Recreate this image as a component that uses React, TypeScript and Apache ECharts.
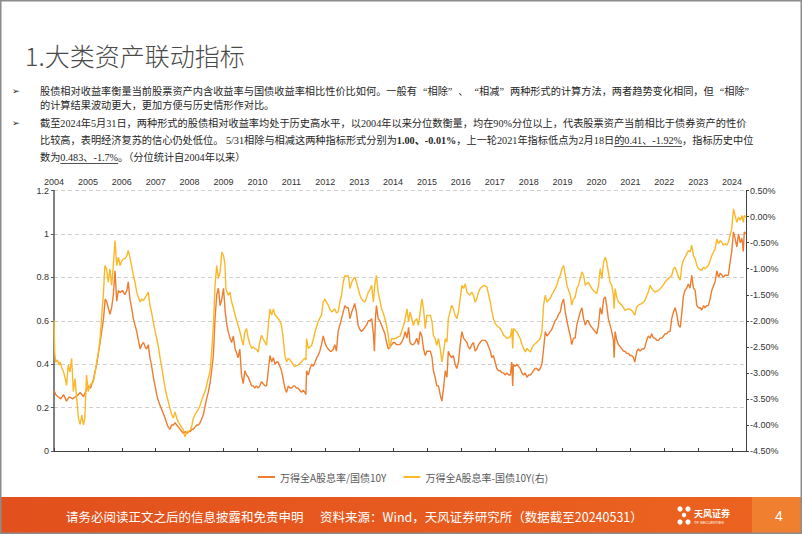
import React, { useEffect, useRef } from "react";
import * as echarts from "echarts";

// ---- data ----
// 万得全A股息率/国债10Y (left axis), [decimal year, value]
const ratioData: [number, number][] = [
  [2004.0, 0.28], [2004.05, 0.26], [2004.12, 0.25], [2004.2, 0.24], [2004.28, 0.26], [2004.37, 0.23], [2004.45, 0.25],
  [2004.55, 0.24], [2004.63, 0.25], [2004.72, 0.26], [2004.77, 0.27], [2004.87, 0.25], [2004.95, 0.28], [2005.01, 0.3],
  [2005.08, 0.29], [2005.16, 0.33], [2005.26, 0.4], [2005.36, 0.5], [2005.46, 0.61], [2005.51, 0.7], [2005.55, 0.69],
  [2005.6, 0.66], [2005.65, 0.63], [2005.7, 0.66], [2005.75, 0.72], [2005.8, 0.83], [2005.85, 0.69], [2005.9, 0.74],
  [2005.95, 0.73], [2006.02, 0.74], [2006.09, 0.72], [2006.15, 0.74], [2006.19, 0.78], [2006.24, 0.7], [2006.29, 0.66],
  [2006.34, 0.61], [2006.39, 0.58], [2006.44, 0.55], [2006.49, 0.51], [2006.54, 0.47], [2006.59, 0.49], [2006.64, 0.5],
  [2006.69, 0.48], [2006.73, 0.47], [2006.78, 0.49], [2006.83, 0.43], [2006.88, 0.39], [2006.93, 0.34], [2006.98, 0.3],
  [2007.03, 0.26], [2007.08, 0.23], [2007.13, 0.21], [2007.18, 0.19], [2007.23, 0.17], [2007.28, 0.15], [2007.32, 0.13],
  [2007.37, 0.11], [2007.42, 0.1], [2007.47, 0.12], [2007.52, 0.12], [2007.57, 0.13], [2007.62, 0.12], [2007.67, 0.11],
  [2007.72, 0.1], [2007.77, 0.09], [2007.82, 0.08], [2007.87, 0.09], [2007.92, 0.08], [2007.97, 0.09], [2008.02, 0.09],
  [2008.07, 0.1], [2008.11, 0.1], [2008.16, 0.11], [2008.21, 0.12], [2008.26, 0.12], [2008.31, 0.13], [2008.36, 0.15],
  [2008.41, 0.17], [2008.46, 0.21], [2008.5, 0.24], [2008.55, 0.27], [2008.6, 0.31], [2008.65, 0.37], [2008.7, 0.44],
  [2008.75, 0.61], [2008.8, 0.72], [2008.85, 0.75], [2008.9, 0.67], [2008.95, 0.7], [2009.0, 0.75], [2009.05, 0.64],
  [2009.1, 0.58], [2009.14, 0.55], [2009.19, 0.52], [2009.24, 0.5], [2009.29, 0.53], [2009.34, 0.47], [2009.39, 0.45],
  [2009.43, 0.43], [2009.48, 0.47], [2009.53, 0.35], [2009.58, 0.31], [2009.63, 0.37], [2009.68, 0.35], [2009.73, 0.34],
  [2009.78, 0.32], [2009.83, 0.3], [2009.88, 0.3], [2009.92, 0.29], [2009.97, 0.3], [2010.02, 0.29], [2010.07, 0.3],
  [2010.12, 0.32], [2010.17, 0.31], [2010.22, 0.3], [2010.27, 0.3], [2010.32, 0.37], [2010.37, 0.44], [2010.42, 0.41],
  [2010.47, 0.43], [2010.52, 0.4], [2010.57, 0.41], [2010.61, 0.41], [2010.66, 0.39], [2010.71, 0.37], [2010.76, 0.33],
  [2010.81, 0.29], [2010.86, 0.27], [2010.91, 0.3], [2010.96, 0.29], [2011.01, 0.29], [2011.06, 0.3], [2011.1, 0.3],
  [2011.15, 0.29], [2011.2, 0.29], [2011.25, 0.28], [2011.3, 0.27], [2011.35, 0.28], [2011.4, 0.27], [2011.43, 0.26],
  [2011.45, 0.37], [2011.5, 0.35], [2011.55, 0.38], [2011.6, 0.4], [2011.65, 0.39], [2011.7, 0.41], [2011.75, 0.43],
  [2011.79, 0.44], [2011.84, 0.46], [2011.89, 0.49], [2011.94, 0.53], [2011.99, 0.5], [2012.04, 0.48], [2012.09, 0.47],
  [2012.14, 0.46], [2012.19, 0.46], [2012.24, 0.47], [2012.28, 0.49], [2012.33, 0.46], [2012.38, 0.55], [2012.43, 0.58],
  [2012.48, 0.61], [2012.53, 0.64], [2012.58, 0.67], [2012.63, 0.66], [2012.68, 0.66], [2012.73, 0.61], [2012.78, 0.64],
  [2012.83, 0.66], [2012.87, 0.68], [2012.92, 0.64], [2012.97, 0.58], [2013.02, 0.56], [2013.07, 0.55], [2013.12, 0.56],
  [2013.17, 0.57], [2013.22, 0.58], [2013.27, 0.6], [2013.32, 0.6], [2013.37, 0.61], [2013.42, 0.54], [2013.45, 0.46],
  [2013.48, 0.61], [2013.51, 0.67], [2013.56, 0.61], [2013.61, 0.6], [2013.66, 0.58], [2013.71, 0.56], [2013.76, 0.54],
  [2013.81, 0.5], [2013.86, 0.47], [2013.91, 0.48], [2013.96, 0.49], [2014.01, 0.5], [2014.05, 0.5], [2014.1, 0.49],
  [2014.15, 0.49], [2014.2, 0.49], [2014.25, 0.5], [2014.31, 0.52], [2014.36, 0.55], [2014.41, 0.52], [2014.46, 0.57],
  [2014.5, 0.5], [2014.55, 0.49], [2014.6, 0.49], [2014.65, 0.5], [2014.7, 0.52], [2014.75, 0.49], [2014.8, 0.55],
  [2014.85, 0.53], [2014.9, 0.47], [2014.95, 0.44], [2015.0, 0.46], [2015.05, 0.46], [2015.1, 0.46], [2015.15, 0.43],
  [2015.19, 0.37], [2015.24, 0.34], [2015.29, 0.3], [2015.34, 0.3], [2015.39, 0.26], [2015.44, 0.23], [2015.49, 0.29],
  [2015.54, 0.37], [2015.59, 0.34], [2015.63, 0.46], [2015.68, 0.44], [2015.73, 0.43], [2015.78, 0.44], [2015.83, 0.4],
  [2015.88, 0.38], [2015.93, 0.41], [2015.98, 0.49], [2016.03, 0.55], [2016.08, 0.52], [2016.13, 0.51], [2016.18, 0.5],
  [2016.22, 0.48], [2016.27, 0.47], [2016.32, 0.49], [2016.37, 0.5], [2016.42, 0.46], [2016.47, 0.47], [2016.52, 0.49],
  [2016.57, 0.5], [2016.62, 0.51], [2016.67, 0.51], [2016.72, 0.51], [2016.77, 0.5], [2016.82, 0.48], [2016.87, 0.46],
  [2016.91, 0.43], [2016.96, 0.44], [2017.01, 0.41], [2017.06, 0.38], [2017.11, 0.37], [2017.16, 0.37], [2017.21, 0.36],
  [2017.26, 0.36], [2017.31, 0.35], [2017.36, 0.36], [2017.41, 0.35], [2017.46, 0.35], [2017.5, 0.41], [2017.53, 0.3],
  [2017.55, 0.4], [2017.6, 0.39], [2017.65, 0.4], [2017.7, 0.39], [2017.75, 0.38], [2017.8, 0.36], [2017.85, 0.35],
  [2017.9, 0.36], [2017.95, 0.34], [2018.0, 0.35], [2018.05, 0.35], [2018.1, 0.36], [2018.14, 0.37], [2018.19, 0.38],
  [2018.24, 0.38], [2018.29, 0.37], [2018.34, 0.38], [2018.39, 0.4], [2018.44, 0.47], [2018.49, 0.55], [2018.54, 0.53],
  [2018.59, 0.54], [2018.63, 0.55], [2018.68, 0.56], [2018.73, 0.58], [2018.78, 0.6], [2018.83, 0.61], [2018.88, 0.63],
  [2018.93, 0.64], [2018.98, 0.68], [2019.03, 0.7], [2019.08, 0.64], [2019.13, 0.6], [2019.18, 0.56], [2019.23, 0.53],
  [2019.27, 0.49], [2019.32, 0.52], [2019.37, 0.52], [2019.42, 0.58], [2019.47, 0.61], [2019.52, 0.64], [2019.57, 0.66],
  [2019.62, 0.61], [2019.67, 0.58], [2019.72, 0.6], [2019.76, 0.6], [2019.81, 0.58], [2019.86, 0.57], [2019.91, 0.56],
  [2019.96, 0.55], [2020.01, 0.54], [2020.06, 0.58], [2020.11, 0.66], [2020.16, 0.63], [2020.21, 0.7], [2020.26, 0.71],
  [2020.3, 0.67], [2020.35, 0.61], [2020.4, 0.58], [2020.45, 0.55], [2020.5, 0.51], [2020.52, 0.43], [2020.55, 0.55],
  [2020.6, 0.51], [2020.65, 0.49], [2020.7, 0.48], [2020.75, 0.47], [2020.8, 0.46], [2020.84, 0.46], [2020.89, 0.45],
  [2020.94, 0.45], [2020.99, 0.44], [2021.04, 0.44], [2021.09, 0.43], [2021.13, 0.41], [2021.19, 0.46], [2021.24, 0.47],
  [2021.29, 0.46], [2021.34, 0.47], [2021.39, 0.47], [2021.43, 0.48], [2021.48, 0.51], [2021.53, 0.53], [2021.58, 0.52],
  [2021.63, 0.54], [2021.68, 0.52], [2021.73, 0.52], [2021.78, 0.51], [2021.83, 0.51], [2021.88, 0.52], [2021.93, 0.52],
  [2021.98, 0.53], [2022.02, 0.54], [2022.07, 0.54], [2022.12, 0.55], [2022.17, 0.55], [2022.22, 0.61], [2022.27, 0.64],
  [2022.32, 0.66], [2022.37, 0.63], [2022.42, 0.58], [2022.47, 0.57], [2022.52, 0.64], [2022.56, 0.71], [2022.61, 0.74],
  [2022.66, 0.75], [2022.71, 0.77], [2022.76, 0.75], [2022.81, 0.81], [2022.86, 0.75], [2022.91, 0.74], [2022.96, 0.67],
  [2023.01, 0.66], [2023.06, 0.66], [2023.11, 0.65], [2023.16, 0.67], [2023.2, 0.66], [2023.25, 0.67], [2023.3, 0.67],
  [2023.35, 0.7], [2023.4, 0.74], [2023.45, 0.76], [2023.5, 0.78], [2023.55, 0.83], [2023.6, 0.8], [2023.65, 0.82],
  [2023.7, 0.81], [2023.74, 0.8], [2023.79, 0.81], [2023.84, 0.81], [2023.89, 0.81], [2023.94, 0.87], [2023.99, 0.92],
  [2024.04, 1.01], [2024.09, 0.98], [2024.14, 0.94], [2024.19, 1.0], [2024.24, 0.96], [2024.29, 0.98], [2024.33, 0.92],
  [2024.36, 1.01], [2024.41, 1.0],
];

// 万得全A股息率-国债10Y (right axis, %), [decimal year, value]
const spreadData: [number, number][] = [
  [2004.0, -2.0], [2004.02, -2.6], [2004.05, -2.8], [2004.1, -2.75], [2004.15, -2.85], [2004.18, -2.79], [2004.23, -2.9],
  [2004.28, -2.98], [2004.33, -3.1], [2004.37, -3.24], [2004.42, -2.85], [2004.47, -2.98], [2004.52, -2.72], [2004.57, -3.36],
  [2004.62, -3.11], [2004.67, -3.49], [2004.72, -3.87], [2004.77, -3.99], [2004.82, -3.81], [2004.87, -4.0], [2004.91, -3.87],
  [2004.96, -3.04], [2005.01, -3.36], [2005.06, -3.24], [2005.11, -3.2], [2005.16, -3.17], [2005.21, -3.0], [2005.26, -2.79],
  [2005.31, -2.6], [2005.36, -2.34], [2005.41, -1.89], [2005.46, -1.45], [2005.5, -0.94], [2005.55, -1.0], [2005.6, -1.26],
  [2005.65, -1.0], [2005.7, -1.32], [2005.75, -0.94], [2005.8, -0.46], [2005.85, -0.94], [2005.9, -0.78], [2005.95, -0.94],
  [2006.0, -0.85], [2006.05, -0.81], [2006.1, -0.8], [2006.15, -0.75], [2006.19, -0.65], [2006.24, -0.78], [2006.29, -0.95],
  [2006.34, -1.13], [2006.39, -1.26], [2006.44, -1.45], [2006.49, -1.55], [2006.54, -1.64], [2006.59, -1.58], [2006.64, -1.61],
  [2006.69, -1.55], [2006.73, -1.51], [2006.78, -1.45], [2006.83, -1.7], [2006.88, -1.85], [2006.93, -2.02], [2006.98, -2.2],
  [2007.03, -2.34], [2007.08, -2.5], [2007.13, -2.72], [2007.18, -2.9], [2007.23, -3.11], [2007.28, -3.3], [2007.32, -3.43],
  [2007.37, -3.55], [2007.42, -3.68], [2007.47, -3.8], [2007.52, -3.87], [2007.57, -3.75], [2007.62, -3.87], [2007.67, -3.95],
  [2007.72, -4.0], [2007.77, -4.05], [2007.82, -4.1], [2007.86, -4.23], [2007.92, -4.13], [2007.97, -4.12], [2008.02, -4.1],
  [2008.07, -4.0], [2008.11, -3.87], [2008.16, -3.8], [2008.21, -3.75], [2008.26, -3.7], [2008.31, -3.62], [2008.36, -3.52],
  [2008.41, -3.43], [2008.46, -3.35], [2008.5, -3.24], [2008.55, -3.1], [2008.6, -2.98], [2008.65, -2.6], [2008.7, -2.09],
  [2008.75, -1.32], [2008.8, -0.94], [2008.85, -1.19], [2008.9, -1.06], [2008.95, -0.68], [2009.0, -0.75], [2009.04, -0.9],
  [2009.07, -1.38], [2009.14, -1.51], [2009.19, -1.45], [2009.24, -1.64], [2009.29, -1.75], [2009.34, -1.89], [2009.39, -2.0],
  [2009.43, -2.09], [2009.48, -2.2], [2009.53, -2.34], [2009.58, -2.47], [2009.63, -2.21], [2009.68, -2.15], [2009.73, -2.34],
  [2009.78, -2.45], [2009.83, -2.53], [2009.88, -2.5], [2009.92, -2.53], [2009.97, -2.55], [2010.02, -2.6], [2010.07, -2.41],
  [2010.12, -2.28], [2010.17, -2.35], [2010.22, -2.41], [2010.27, -2.47], [2010.32, -2.09], [2010.37, -1.77], [2010.42, -1.89],
  [2010.47, -1.77], [2010.52, -1.89], [2010.57, -1.92], [2010.61, -1.96], [2010.66, -2.0], [2010.71, -2.09], [2010.76, -2.34],
  [2010.81, -2.66], [2010.86, -2.79], [2010.91, -2.72], [2010.96, -2.75], [2011.01, -2.79], [2011.06, -2.85], [2011.1, -2.88],
  [2011.15, -2.86], [2011.2, -2.85], [2011.25, -2.82], [2011.3, -2.79], [2011.35, -2.75], [2011.4, -2.72], [2011.43, -2.75],
  [2011.45, -2.34], [2011.5, -2.53], [2011.55, -2.5], [2011.6, -2.47], [2011.65, -2.35], [2011.7, -2.21], [2011.75, -2.1],
  [2011.79, -2.02], [2011.84, -1.95], [2011.89, -1.89], [2011.94, -1.64], [2011.99, -1.58], [2012.04, -1.65], [2012.09, -1.7],
  [2012.14, -1.78], [2012.19, -1.83], [2012.24, -1.8], [2012.28, -1.77], [2012.33, -1.85], [2012.38, -1.83], [2012.43, -1.65],
  [2012.48, -1.51], [2012.53, -1.26], [2012.58, -1.13], [2012.63, -1.15], [2012.68, -1.13], [2012.73, -1.38], [2012.78, -1.26],
  [2012.83, -1.2], [2012.87, -1.16], [2012.92, -1.25], [2012.97, -1.38], [2013.02, -1.5], [2013.07, -1.58], [2013.12, -1.62],
  [2013.17, -1.64], [2013.22, -1.55], [2013.27, -1.45], [2013.32, -1.4], [2013.37, -1.32], [2013.42, -1.64], [2013.46, -1.32],
  [2013.51, -1.13], [2013.56, -1.45], [2013.61, -1.6], [2013.66, -1.77], [2013.71, -1.85], [2013.76, -1.96], [2013.81, -2.1],
  [2013.86, -2.28], [2013.9, -2.53], [2013.96, -2.34], [2014.01, -2.35], [2014.05, -2.34], [2014.1, -2.33], [2014.15, -2.31],
  [2014.2, -2.3], [2014.25, -2.21], [2014.31, -2.09], [2014.36, -1.96], [2014.41, -1.77], [2014.46, -2.02], [2014.5, -1.83],
  [2014.55, -1.95], [2014.6, -2.09], [2014.65, -2.0], [2014.7, -1.96], [2014.75, -2.09], [2014.8, -1.83], [2014.85, -1.58],
  [2014.9, -1.77], [2014.95, -2.15], [2015.0, -1.89], [2015.05, -1.9], [2015.1, -1.89], [2015.15, -2.02], [2015.19, -2.28],
  [2015.24, -2.34], [2015.29, -2.47], [2015.34, -2.34], [2015.39, -2.53], [2015.44, -2.79], [2015.49, -2.6], [2015.54, -2.34],
  [2015.59, -2.41], [2015.63, -1.96], [2015.68, -1.83], [2015.73, -1.7], [2015.78, -1.77], [2015.83, -1.89], [2015.88, -1.96],
  [2015.93, -1.83], [2015.98, -1.58], [2016.03, -1.32], [2016.08, -1.38], [2016.13, -1.29], [2016.18, -1.45], [2016.22, -1.48],
  [2016.27, -1.51], [2016.32, -1.45], [2016.37, -1.51], [2016.42, -1.64], [2016.47, -1.58], [2016.52, -1.45], [2016.57, -1.38],
  [2016.62, -1.35], [2016.67, -1.32], [2016.72, -1.33], [2016.77, -1.35], [2016.82, -1.51], [2016.87, -1.64], [2016.91, -1.8],
  [2016.96, -1.96], [2017.01, -2.05], [2017.06, -2.09], [2017.11, -2.12], [2017.16, -2.15], [2017.21, -2.2], [2017.26, -2.28],
  [2017.31, -2.3], [2017.36, -2.34], [2017.41, -2.32], [2017.46, -2.31], [2017.5, -2.15], [2017.53, -2.53], [2017.55, -2.15],
  [2017.6, -2.18], [2017.65, -2.21], [2017.7, -2.28], [2017.75, -2.34], [2017.8, -2.45], [2017.85, -2.53], [2017.9, -2.6],
  [2017.95, -2.53], [2018.0, -2.57], [2018.05, -2.6], [2018.1, -2.52], [2018.14, -2.47], [2018.19, -2.44], [2018.24, -2.41],
  [2018.29, -2.38], [2018.34, -2.34], [2018.39, -2.21], [2018.44, -1.7], [2018.49, -1.51], [2018.54, -1.64], [2018.59, -1.6],
  [2018.63, -1.58], [2018.68, -1.5], [2018.73, -1.45], [2018.78, -1.38], [2018.83, -1.32], [2018.88, -1.2], [2018.93, -1.13],
  [2018.98, -1.0], [2019.03, -0.94], [2019.08, -1.13], [2019.13, -1.32], [2019.18, -1.42], [2019.23, -1.51], [2019.27, -1.7],
  [2019.32, -1.58], [2019.37, -1.55], [2019.42, -1.38], [2019.47, -1.32], [2019.52, -1.19], [2019.57, -1.06], [2019.62, -1.13],
  [2019.67, -1.32], [2019.72, -1.28], [2019.76, -1.26], [2019.81, -1.32], [2019.86, -1.38], [2019.91, -1.42], [2019.96, -1.45],
  [2020.01, -1.48], [2020.06, -1.32], [2020.11, -1.0], [2020.16, -1.19], [2020.21, -0.87], [2020.26, -0.78], [2020.3, -0.87],
  [2020.35, -1.06], [2020.4, -1.26], [2020.45, -1.32], [2020.5, -1.51], [2020.52, -1.77], [2020.55, -1.38], [2020.6, -1.55],
  [2020.65, -1.64], [2020.7, -1.67], [2020.75, -1.7], [2020.8, -1.75], [2020.84, -1.8], [2020.89, -1.78], [2020.94, -1.77],
  [2020.99, -1.78], [2021.04, -1.8], [2021.09, -1.85], [2021.13, -1.89], [2021.19, -1.73], [2021.24, -1.7], [2021.29, -1.68],
  [2021.34, -1.67], [2021.39, -1.64], [2021.43, -1.61], [2021.48, -1.52], [2021.53, -1.45], [2021.58, -1.32], [2021.63, -1.38],
  [2021.68, -1.42], [2021.73, -1.45], [2021.78, -1.43], [2021.83, -1.42], [2021.88, -1.38], [2021.93, -1.35], [2021.98, -1.3],
  [2022.02, -1.26], [2022.07, -1.22], [2022.12, -1.19], [2022.17, -1.16], [2022.22, -1.13], [2022.27, -1.0], [2022.32, -0.97],
  [2022.37, -1.06], [2022.42, -1.16], [2022.47, -1.22], [2022.52, -0.94], [2022.56, -0.84], [2022.61, -0.78], [2022.66, -0.72],
  [2022.71, -0.65], [2022.76, -0.68], [2022.81, -0.55], [2022.86, -0.75], [2022.91, -0.81], [2022.96, -0.94], [2023.01, -1.0],
  [2023.06, -1.02], [2023.11, -1.03], [2023.16, -0.97], [2023.2, -1.0], [2023.25, -0.97], [2023.3, -0.94], [2023.35, -0.85],
  [2023.4, -0.75], [2023.45, -0.68], [2023.5, -0.62], [2023.55, -0.43], [2023.6, -0.52], [2023.65, -0.46], [2023.7, -0.49],
  [2023.74, -0.55], [2023.79, -0.52], [2023.84, -0.55], [2023.89, -0.49], [2023.94, -0.36], [2023.99, -0.23], [2024.04, 0.15],
  [2024.09, 0.02], [2024.14, -0.11], [2024.19, -0.01], [2024.24, -0.07], [2024.29, 0.02], [2024.33, -0.11], [2024.36, 0.02],
  [2024.41, -0.01],
];

const seriesNames = ["万得全A股息率/国债10Y", "万得全A股息率-国债10Y(右)"];
const xRange = [2004, 2024.41];
const leftRange = [0, 1.2, 0.2];
const rightRange = [-4.5, 0.5, 0.5];

const titleText = "1.大类资产联动指标";
// bullet lines, as segments: [text, kind]  kind: n=normal, b=bold, u=underlined, qo/qc=quotes
type Seg = [string, string];
const bulletLines: Seg[][] = [
  [
    ["股债相对收益率衡量当前股票资产内含收益率与国债收益率相比性价比如何。一般有", "n"], ["“", "qo"], ["相除", "n"], ["”", "qc"],
    ["、", "n"], ["“", "qo"], ["相减", "n"], ["”", "qc"], ["两种形式的计算方法，两者趋势变化相同，但", "n"], ["“", "qo"],
    ["相除", "n"], ["”", "qc"],
  ],
  [["的计算结果波动更大，更加方便与历史情形作对比。", "n"]],
  [["截至2024年5月31日，两种形式的股债相对收益率均处于历史高水平，以2004年以来分位数衡量，均在90%分位以上，代表股票资产当前相比于债券资产的性价", "n"]],
  [
    ["比较高，表明经济复苏的信心仍处低位。 5/31相除与相减这两种指标形式分别为", "n"], ["1.00、-0.01%", "b"],
    ["，上一轮2021年指标低点为2月18日", "n"], ["的0.41、-1.92%", "u"], ["，指标历史中位", "n"],
  ],
  [["数为", "n"], ["0.483、-1.7%", "u"], ["。（分位统计自2004年以来）", "n"]],
];
const bulletLineYs = [91, 105, 123, 140, 157];
const bulletMarkYs = [91, 123];
const footerLeft = "请务必阅读正文之后的信息披露和免责申明";
const footerSource = "资料来源：Wind，天风证券研究所（数据截至20240531）";
const pageNo = "4";

const CJK = '"Noto Sans CJK SC"';
const SERIF = '"Liberation Serif", "Noto Sans CJK SC"';
const BODY_SIZE = 10.2;
const QUOTE_PAD = 6;

export default function App() {
  const ref = useRef<HTMLDivElement>(null);

  useEffect(() => {
    document.body.style.margin = "0";
    const chart = echarts.init(ref.current!, null, { renderer: "svg" });

    const ctx = document.createElement("canvas").getContext("2d")!;
    const measure = (t: string, bold: boolean) => {
      ctx.font = `${bold ? "bold " : ""}${BODY_SIZE}px ${SERIF}`;
      return ctx.measureText(t).width;
    };

    const textX = 40;
    const graphics: any[] = [];
    bulletLines.forEach((segs, i) => {
      const y = bulletLineYs[i];
      let x = textX;
      const parts: string[] = [];
      segs.forEach(([t, k]) => {
        const w = measure(t, k === "b") + (k === "qo" || k === "qc" ? QUOTE_PAD : 0);
        if (k === "u") {
          graphics.push({
            type: "line", silent: true,
            shape: { x1: x, y1: y + 6.5, x2: x + w, y2: y + 6.5 },
            style: { stroke: "#262626", lineWidth: 0.8 },
          });
        }
        x += w;
        parts.push(k === "n" || k === "u" ? t : `{${k}|${t}}`);
      });
      graphics.push({
        type: "text", x: textX, y, silent: true,
        style: {
          text: parts.join(""),
          fill: "#262626",
          fontSize: BODY_SIZE,
          fontFamily: SERIF,
          verticalAlign: "middle",
          rich: {
            b: { fontWeight: "bold", fontSize: BODY_SIZE, fontFamily: SERIF, fill: "#262626" },
            qo: { fontSize: BODY_SIZE, fontFamily: SERIF, fill: "#262626", padding: [0, 0, 0, QUOTE_PAD] },
            qc: { fontSize: BODY_SIZE, fontFamily: SERIF, fill: "#262626", padding: [0, QUOTE_PAD, 0, 0] },
          },
        },
      });
    });
    bulletMarkYs.forEach((y) =>
      graphics.push({
        type: "text", x: 12, y, silent: true,
        style: { text: "➢", fontSize: 9, fontFamily: '"DejaVu Sans"', fill: "#262626", verticalAlign: "middle" },
      })
    );

    chart.setOption({
      animation: false,
      backgroundColor: "#ffffff",
      grid: { left: 54, right: 56, top: 190.6, bottom: 83, containLabel: false },
      legend: {
        left: 253,
        top: 467,
        icon: "rect",
        itemWidth: 17,
        itemHeight: 2,
        itemGap: 17,
        textStyle: { fontSize: 10, color: "#595959", fontFamily: CJK },
        data: seriesNames,
      },
      xAxis: {
        type: "value",
        position: "top",
        min: xRange[0],
        max: xRange[1],
        interval: 1,
        axisLine: { show: true, lineStyle: { color: "#404040", width: 1 } },
        axisTick: { show: true, length: 3, lineStyle: { color: "#404040" } },
        axisLabel: {
          fontSize: 9,
          color: "#333",
          margin: 4,
          fontFamily: '"Liberation Sans"',
          showMaxLabel: false,
          formatter: (v: number) => String(Math.round(v)),
        },
        splitLine: { show: false },
      },
      yAxis: [
        {
          type: "value",
          position: "left",
          min: leftRange[0],
          max: leftRange[1],
          interval: leftRange[2],
          axisLine: { show: true, lineStyle: { color: "#595959", width: 1.5 } },
          axisTick: { show: true, length: 3, lineStyle: { color: "#595959" } },
          axisLabel: {
            fontSize: 9,
            color: "#333",
            margin: 5,
            fontFamily: '"Liberation Sans"',
            formatter: (v: number) => String(+v.toFixed(1)),
          },
          splitLine: { show: true, lineStyle: { color: "#D0D0D0", type: [4, 3], width: 1 } },
        },
        {
          type: "value",
          position: "right",
          min: rightRange[0],
          max: rightRange[1],
          interval: rightRange[2],
          axisLine: { show: true, lineStyle: { color: "#404040", width: 1 } },
          axisTick: { show: true, length: 3, lineStyle: { color: "#404040" } },
          axisLabel: {
            fontSize: 9,
            color: "#333",
            margin: 4,
            fontFamily: '"Liberation Sans"',
            formatter: (v: number) => v.toFixed(2) + "%",
          },
          splitLine: { show: false },
        },
      ],
      series: [
        {
          name: seriesNames[0],
          type: "line",
          yAxisIndex: 0,
          data: ratioData,
          showSymbol: false,
          symbol: "none",
          lineStyle: { color: "#ED7D31", width: 1.4 },
          itemStyle: { color: "#ED7D31" },
          z: 2,
        },
        {
          name: seriesNames[1],
          type: "line",
          yAxisIndex: 1,
          data: spreadData,
          showSymbol: false,
          symbol: "none",
          lineStyle: { color: "#FBB829", width: 1.4 },
          itemStyle: { color: "#FBB829" },
          z: 3,
        },
      ],
      graphic: [
        {
          type: "text",
          x: 25,
          y: 55,
          silent: true,
          style: {
            text: titleText,
            fill: "#4a4a4a",
            fontSize: 25,
            fontFamily: CJK,
            fontWeight: 300,
            verticalAlign: "middle",
          },
        },
        ...graphics,
        // footer band
        {
          type: "rect",
          silent: true,
          shape: { x: 0, y: 497, width: 802, height: 37 },
          style: {
            fill: new echarts.graphic.LinearGradient(0, 0, 1, 0, [
              { offset: 0, color: "#E2501D" },
              { offset: 1, color: "#EC6420" },
            ]),
          },
        },
        { type: "rect", silent: true, shape: { x: 752, y: 497, width: 50, height: 37 }, style: { fill: "#F08030" } },
        {
          type: "text", x: 66, y: 516, silent: true,
          style: { text: footerLeft, fill: "#ffffff", fontSize: 12.5, fontFamily: CJK, verticalAlign: "middle" },
        },
        {
          type: "text", x: 320, y: 516, silent: true,
          style: { text: footerSource, fill: "#ffffff", fontSize: 12.5, fontFamily: CJK, verticalAlign: "middle" },
        },
        // logo
        { type: "circle", silent: true, shape: { cx: 680, cy: 509, r: 2.6 }, style: { fill: "#ffffff" } },
        { type: "circle", silent: true, shape: { cx: 688, cy: 509, r: 2.6 }, style: { fill: "#ffffff" } },
        { type: "circle", silent: true, shape: { cx: 684, cy: 515, r: 2.2 }, style: { fill: "#ffffff" } },
        { type: "circle", silent: true, shape: { cx: 680, cy: 522, r: 2.6 }, style: { fill: "#ffffff" } },
        { type: "circle", silent: true, shape: { cx: 688, cy: 522, r: 2.6 }, style: { fill: "#ffffff" } },
        {
          type: "text", x: 694, y: 513, silent: true,
          style: { text: "天风证券", fill: "#ffffff", fontSize: 9, fontWeight: "bold", fontFamily: CJK, verticalAlign: "middle" },
        },
        {
          type: "text", x: 694, y: 522, silent: true,
          style: { text: "TF SECURITIES", fill: "#ffffff", fontSize: 4, fontFamily: '"Liberation Sans"', verticalAlign: "middle" },
        },
        {
          type: "text", x: 779, y: 516, silent: true,
          style: { text: pageNo, fill: "#ffffff", fontSize: 14, fontFamily: '"Liberation Sans"', align: "center", verticalAlign: "middle" },
        },
        // slide frame
        {
          type: "rect", silent: true, z: 100,
          shape: { x: 0.75, y: 0.75, width: 800.5, height: 532.5 },
          style: { fill: "none", stroke: "#8C8C8C", lineWidth: 1.5 },
        },
      ],
    });

    return () => chart.dispose();
  }, []);

  return <div ref={ref} style={{ width: 802, height: 534, position: "absolute", left: 0, top: 0 }} />;
}
